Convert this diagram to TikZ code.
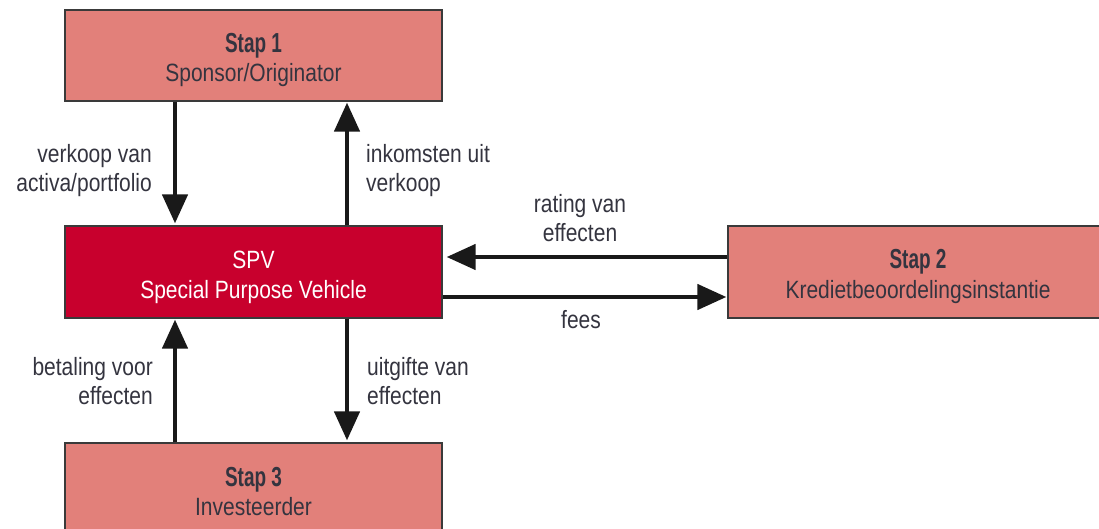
\documentclass[tikz,border=0pt]{standalone}
\usepackage{fontspec}
\usetikzlibrary{arrows.meta}
\newfontfamily\cond{Liberation Sans}[FakeStretch=0.84]
\newfontfamily\condb{Liberation Sans}[FakeStretch=0.69]
\definecolor{salmon}{HTML}{E2807A}
\definecolor{spvred}{HTML}{C8002D}
\definecolor{txt}{HTML}{34343F}
\definecolor{edge}{HTML}{3A3A3A}
\newcommand{\boxtxt}[2]{\rule{0pt}{29pt}{\condb\bfseries\fontsize{27.5}{29}\selectfont #1}\\\rule[-6pt]{0pt}{6pt}#2}
\newcommand{\fl}{\rule{0pt}{19pt}}
\begin{document}
\begin{tikzpicture}[x=1pt,y=-1pt,
  stepbox/.style={draw=edge, line width=1.2pt, fill=salmon, text=txt,
    minimum width=377pt, minimum height=91pt, inner sep=0pt, align=center,
    font=\cond\fontsize{25}{29}\selectfont},
  spvbox/.style={stepbox, fill=spvred, text=white, minimum height=92pt},
  lab/.style={inner sep=0pt, text=txt, font=\cond\fontsize{25}{29}\selectfont},
  arr/.style={line width=4.5pt, draw=black!90, -{Triangle[length=29pt,width=25pt]}}]
\useasboundingbox (0,0) rectangle (1099,529);
\clip (0,0) rectangle (1099,529);
\node[stepbox] (s1) at (253.5,55.5) {\boxtxt{Stap 1}{Sponsor/Originator}};
\node[spvbox] (spv) at (253.5,272) {\rule{0pt}{29pt}SPV\\\rule[-6pt]{0pt}{6pt}Special Purpose Vehicle};
\node[stepbox, minimum width=380pt, minimum height=92pt] (s2) at (918,272) {\boxtxt{Stap 2}{Kredietbeoordelingsinstantie}};
\node[stepbox, minimum height=92pt] (s3) at (253.5,489) {\boxtxt{Stap 3}{Investeerder}};
\coordinate (xl) at (175,0);
\coordinate (xr) at (347,0);
\coordinate (yt) at (0,257);
\coordinate (yb) at (0,297);
\draw[arr, shorten >=2pt] (s1.south -| xl) -- (spv.north -| xl);
\draw[arr, shorten >=1pt] (spv.north -| xr) -- (s1.south -| xr);
\draw[arr, shorten >=4pt] (s2.west |- yt) -- (spv.east |- yt);
\draw[arr, shorten >=1pt] (spv.east |- yb) -- (s2.west |- yb);
\draw[arr, shorten >=1pt] (s3.north -| xl) -- (spv.south -| xl);
\draw[arr, shorten >=2pt] (spv.south -| xr) -- (s3.north -| xr);
\node[lab, anchor=north east, align=right] (l1) at (152,143) {\fl verkoop van\\activa/portfolio};
\node[lab, anchor=north west, align=left] (l2) at (366,143) {\fl inkomsten uit\\verkoop};
\node[lab, anchor=north, align=center] (l3) at (580,193) {\fl rating van\\effecten};
\node[lab, anchor=base] (l4) at (581,328) {fees};
\node[lab, anchor=north east, align=right] (l5) at (153,356) {\fl betaling voor\\effecten};
\node[lab, anchor=north west, align=left] (l6) at (367,356) {\fl uitgifte van\\effecten};
\end{tikzpicture}
\end{document}
